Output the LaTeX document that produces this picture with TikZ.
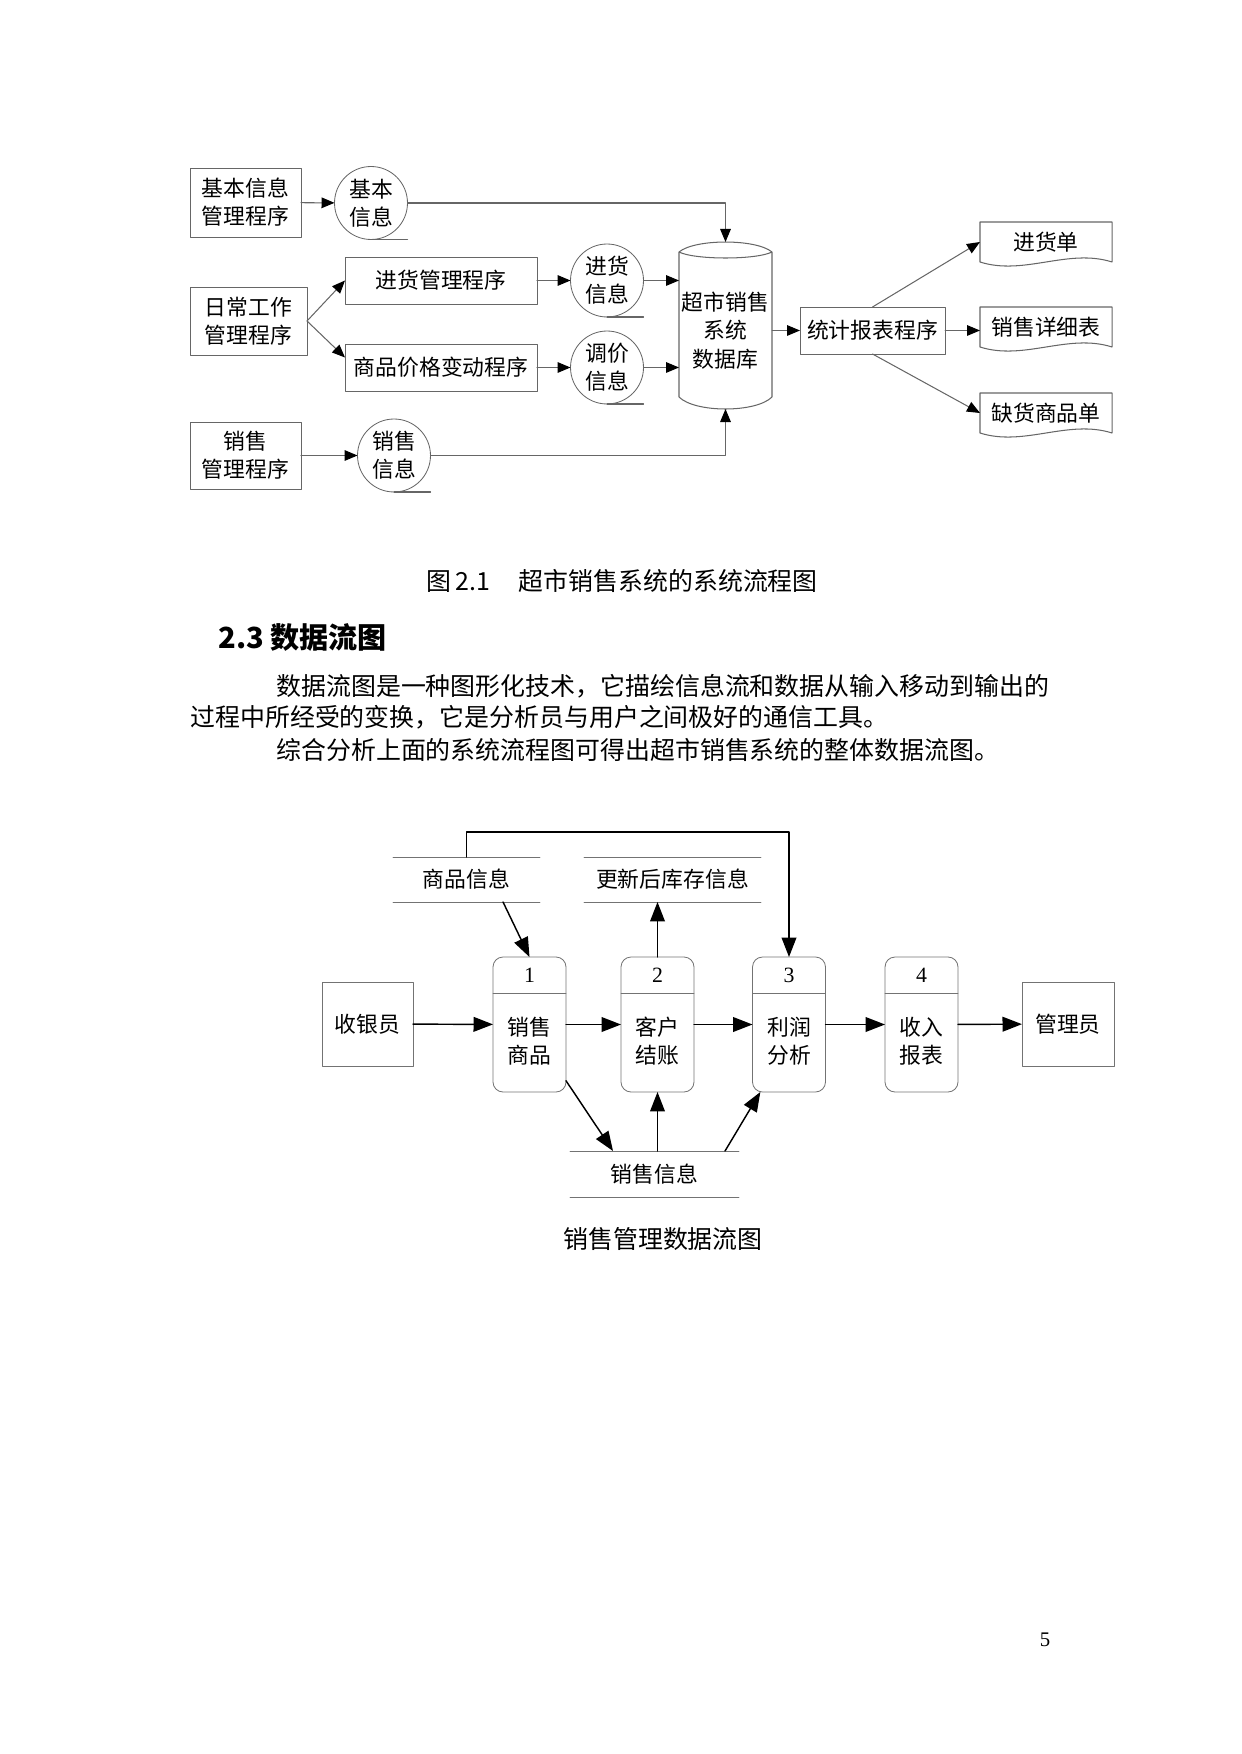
\documentclass[tikz,border=0pt]{standalone}
\usepackage{fontspec}
\setmainfont{Liberation Serif}
\newfontfamily\cjk{Noto Sans CJK SC}
\usetikzlibrary{arrows.meta}
\newcommand{\diagsize}{\fontsize{10.5pt}{13.6pt}\selectfont}
\newcommand{\bodysize}{\fontsize{12pt}{14pt}\selectfont}
\definecolor{linegray}{gray}{0.4}
\definecolor{boxgray}{gray}{0.45}
\tikzset{
  prog/.style={draw=linegray, rectangle, inner sep=0pt, outer sep=0pt, align=center, font=\cjk\diagsize},
  tape/.style={draw=linegray, circle, minimum size=12.35mm, inner sep=0pt, outer sep=0pt, align=center, font=\cjk\diagsize},
  doc/.style={minimum width=22.34mm, minimum height=6.77mm, inner sep=0pt, outer sep=0pt, font=\cjk\diagsize},
  flow/.style={draw=linegray, line width=0.5pt, -{Triangle[length=2.2mm,width=1.8mm,color=black]}},
  ext/.style={draw=boxgray, rectangle, minimum height=14.21mm, inner sep=0pt, outer sep=0pt, font=\cjk\diagsize},
  proc/.style={draw=boxgray, rounded corners=1.69mm, minimum width=12.35mm, minimum height=22.84mm, inner sep=0pt, outer sep=0pt},
  store/.style={minimum height=7.61mm, inner sep=0pt, outer sep=0pt, font=\cjk\diagsize},
  dfd/.style={draw=black, line width=0.7pt, -{Triangle[length=3.3mm,width=2.5mm]}},
  para/.style={anchor=west, inner sep=0pt, font=\cjk\bodysize},
}

\begin{document}
\begin{tikzpicture}[line cap=round,line join=round,x=0.16922mm,y=-0.16922mm]
        \useasboundingbox (0,0) rectangle (1241,1754);
        % system flow chart
        \node[prog, minimum width=18.78mm, minimum height=11.68mm] (jbgl) at (245.5,202.5) {基本信息\\管理程序};
        \node[tape] (jbxx) at (371,203) {基本\\信息};
        \node[prog, minimum width=19.80mm, minimum height=11.51mm] (rcgz) at (248.5,321) {日常工作\\管理程序};
        \node[prog, minimum width=32.49mm, minimum height=7.95mm] (jhgl) at (441,280.5) {进货管理程序};
        \node[prog, minimum width=32.49mm, minimum height=7.95mm] (jgbd) at (441,367.5) {商品价格变动程序};
        \node[tape] (jhxx) at (607,280.5) {进货\\信息};
        \node[tape] (tjxx) at (607,367.5) {调价\\信息};
        \node[prog, minimum width=18.78mm, minimum height=11.34mm] (xsgl) at (245.5,455.5) {销售\\管理程序};
        \node[tape] (xsxx) at (394,455.5) {销售\\信息};
        \foreach \c in {jbxx,jhxx,tjxx,xsxx}
        \draw[linegray, line width=0.5pt] (\c.south) -- (\c.south -| \c.east);
        \draw[linegray, line width=0.5pt] (679,252) -- (679,397) .. controls (695,413) and (756,413) .. (772,397) -- (772,252) .. controls (756,238.7) and (695,238.7) .. (679,252) .. controls (695,260) and (756,260) .. (772,252);
        \node[minimum width=15.74mm, minimum height=28.26mm, inner sep=0pt, outer sep=0pt] (db) at (725.5,325.5) {};
        \node[align=center, font=\cjk\diagsize] (dbt) at (725.5,330.5) {超市销售\\系统\\数据库};
        \node[prog, minimum width=24.54mm, minimum height=7.95mm] (tjbb) at (872.5,330.5) {统计报表程序};
        \node[doc] (jhd) at (1046,242) {进货单};
        \node[doc] (xsxb) at (1046,327) {销售详细表};
        \node[doc] (qhd) at (1046,413) {缺货商品单};
        \foreach \d in {jhd,xsxb,qhd}
        \draw[linegray, line width=0.5pt] (\d.south west) -- (\d.north west) -- (\d.north east) -- (\d.south east) .. controls +(-44,-14) and +(44,14) .. (\d.south west);
        \draw[flow] (jbgl) -- (jbxx);
        \draw[flow] (jbxx.east) -| (db.north);
        \draw[flow] (rcgz.east) -- (jhgl.west);
        \draw[flow] (rcgz.east) -- ([yshift=1.69mm]jgbd.west);
        \draw[flow] (jhgl) -- (jhxx);
        \draw[flow] (jgbd) -- (tjxx);
        \draw[flow] (jhxx) -- (jhxx -| db.west);
        \draw[flow] (tjxx) -- (tjxx -| db.west);
        \draw[flow] (xsgl) -- (xsxx);
        \draw[flow] (xsxx.east) -| (db.south);
        \draw[flow] (db.east |- tjbb) -- (tjbb);
        \draw[flow] (tjbb.north) -- (jhd.west);
        \draw[flow] (tjbb.east) -- (tjbb.east -| xsxb.west);
        \draw[flow] (tjbb.south) -- (qhd.west);
        % text
        \node[para] (cap1) at (426,581) {图\,2.1\hspace{1.15em}超市销售系统的系统流程图};
        \node[para, font=\cjk\bfseries\fontsize{14pt}{16pt}\selectfont] (head) at (218,637) {2.3 数据流图};
        \node[para] (par1) at (276,686) {数据流图是一种图形化技术，它描绘信息流和数据从输入移动到输出的};
        \node[para] (par2) at (190,717) {过程中所经受的变换，它是分析员与用户之间极好的通信工具。};
        \node[para] (par3) at (276,750) {综合分析上面的系统流程图可得出超市销售系统的整体数据流图。};
        % data flow diagram
        \node[ext, minimum width=15.40mm] (syy) at (367.5,1024) {收银员};
        \node[ext, minimum width=15.57mm] (gly) at (1068,1024) {管理员};
        \foreach \i/\x/\txt in {1/529.5/{销售\\商品},2/657.5/{客户\\结账},3/789/{利润\\分析},4/921.5/{收入\\报表}} {
          \node[proc] (p\i) at (\x,1024.5) {};
          \node[font=\diagsize] (n\i) at (\x,975) {\i};
          \node[align=center, font=\cjk\diagsize] (t\i) at (\x,1041.5) {\txt};
          \draw[boxgray] ([yshift=-6.09mm]p\i.north west) -- ([yshift=-6.09mm]p\i.north east);
        }
        \node[store, minimum width=24.88mm] (spxx) at (466.5,879.5) {商品信息};
        \node[store, minimum width=29.95mm] (gxkc) at (672.5,879.5) {更新后库存信息};
        \node[store, minimum width=28.60mm, minimum height=7.78mm] (xsjl) at (654.5,1174) {销售信息};
        \foreach \s in {spxx,gxkc,xsjl} {
          \draw[boxgray] (\s.north west) -- (\s.north east);
          \draw[boxgray] (\s.south west) -- (\s.south east);
        }
        \draw[dfd] (syy) -- (p1);
        \draw[dfd] (p1) -- (p2);
        \draw[dfd] (p2) -- (p3);
        \draw[dfd] (p3) -- (p4);
        \draw[dfd] (p4) -- (gly);
        \draw[dfd] ([xshift=6.18mm]spxx.south) -- (p1.north);
        \draw[dfd] (spxx.north) -- ++(0,-25) -| (p3.north);
        \draw[dfd] (p2.north) -- (p2.north |- gxkc.south);
        \draw[dfd] (p1.-57) -- ([xshift=-7.02mm]xsjl.north);
        \draw[dfd] (p2.south |- xsjl.north) -- (p2.south);
        \draw[dfd] ([xshift=11.93mm]xsjl.north) -- (p3.-113);
        \node[font=\cjk\bodysize] (cap2) at (663,1239) {销售管理数据流图};
        \node[font=\fontsize{10pt}{12pt}\selectfont] (pgno) at (1045,1640) {5};
      \end{tikzpicture}
\end{document}
